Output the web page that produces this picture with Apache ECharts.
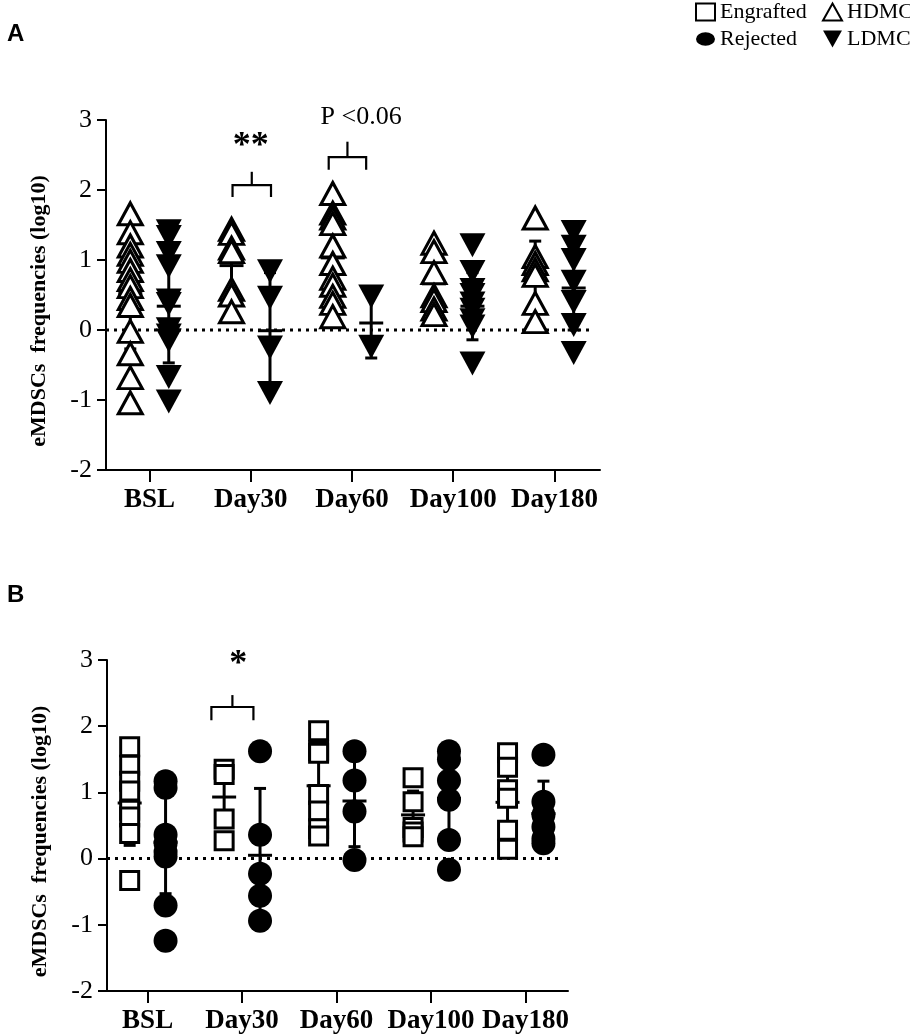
<!DOCTYPE html>
<html>
<head>
<meta charset="utf-8">
<script src="https://cdn.jsdelivr.net/npm/echarts@6/dist/echarts.min.js"></script>
<style>
  html, body { margin: 0; padding: 0; background: #fff; }
  #main { width: 910px; height: 1036px; }
</style>
</head>
<body>
<div id="main"></div>
<script>
// categories / tick labels
var categories = ['BSL', 'Day30', 'Day60', 'Day100', 'Day180'];
var yTicks = [-2, -1, 0, 1, 2, 3];
var yTitle = 'eMDSCs  frequencies (log10)';

// panel A values (log10), one list per time point
var hdmc = [
    [1.66, 1.39, 1.2, 1.08, 0.98, 0.85, 0.72, 0.62, 0.45, 0.35, -0.02, -0.34, -0.68, -1.04],
    [1.44, 1.38, 1.17, 1.12, 0.58, 0.5, 0.26],
    [1.95, 1.67, 1.6, 1.52, 1.2, 0.95, 0.74, 0.64, 0.48, 0.38, 0.19],
    [1.24, 1.12, 0.82, 0.49, 0.42, 0.3, 0.22],
    [1.6, 1.05, 0.95, 0.86, 0.78, 0.38, 0.12]
];
var ldmc = [
    [1.41, 1.33, 1.1, 0.91, 0.42, 0.37, 0.01, -0.08, -0.15, -0.67, -1.02],
    [0.84, 0.46, -0.25, -0.9],
    [0.48, -0.24],
    [1.21, 0.83, 0.57, 0.5, 0.38, 0.29, 0.14, 0.05, -0.48],
    [1.4, 1.19, 1.0, 0.69, 0.4, 0.07, -0.33]
];
// mean, lower, upper of the error bars
var hdmcBars = [[0.52, -0.27, 1.31], [0.92, 0.45, 1.39], [1.03, 0.45, 1.61], [0.66, 0.25, 1.06], [0.8, 0.32, 1.27]];
var ldmcBars = [[0.34, -0.47, 1.15], [-0.01, -0.8, 0.82], [0.1, -0.4, 0.57], [0.34, -0.14, 0.82], [0.6, 0.0, 1.2]];

// panel B values
var engrafted = [
    [1.69, 1.41, 1.17, 1.02, 0.73, 0.63, 0.38, -0.33],
    [1.35, 1.27, 0.6, 0.27],
    [1.93, 1.63, 1.59, 0.97, 0.72, 0.45, 0.34],
    [1.22, 0.86, 0.47, 0.4, 0.33],
    [1.6, 1.38, 1.04, 0.91, 0.43, 0.14]
];
var rejected = [
    [1.17, 1.07, 0.36, 0.23, 0.1, 0.03, -0.71, -1.24],
    [1.62, 0.36, -0.23, -0.56, -0.94],
    [1.62, 1.18, 0.71, -0.02],
    [1.62, 1.5, 1.18, 0.89, 0.28, -0.17],
    [1.57, 0.86, 0.66, 0.48, 0.3, 0.23]
];
var engBars = [[0.84, 0.2, 1.47], [0.93, 0.47, 1.39], [1.1, 0.5, 1.7], [0.66, 0.3, 1.02], [0.85, 0.3, 1.4]];
var rejBars = [[0.25, -0.53, 1.03], [0.05, -0.96, 1.06], [0.87, 0.18, 1.56], [0.91, 0.2, 1.6], [0.68, 0.19, 1.17]];

// significance marks: [x0, x1, yTop, yLeg, yTick]
var bracketsA = [[0.82, 1.2, 2.07, 1.9, 2.26], [1.77, 2.14, 2.47, 2.29, 2.69]];
var labelsA = [[1.0, 2.62, '**'], [2.09, 3.04, 'P <0.06']];
var bracketsB = [[0.675, 1.12, 2.29, 2.09, 2.47]];
var labelsB = [[0.96, 2.93, '*']];

var xMin = -0.43, xMax = 4.45, zeroEnd = 4.37, shift = 0.19;

var serif = 'Liberation Serif';

function points(groups, off) {
    var out = [];
    for (var i = 0; i < groups.length; i++) {
        for (var j = 0; j < groups[i].length; j++) {
            out.push([i + off, groups[i][j]]);
        }
    }
    return out;
}
function barData(bars, off) {
    var out = [];
    for (var i = 0; i < bars.length; i++) {
        out.push([i + off, bars[i][0], bars[i][1], bars[i][2]]);
    }
    return out;
}

function renderBar(params, api) {
    var x = api.value(0);
    var m = api.coord([x, api.value(1)]);
    var lo = api.coord([x, api.value(2)]);
    var hi = api.coord([x, api.value(3)]);
    var st = { stroke: '#000', lineWidth: 3 };
    return {
        type: 'group',
        children: [
            { type: 'line', shape: { x1: m[0], y1: lo[1], x2: m[0], y2: hi[1] }, style: st },
            { type: 'line', shape: { x1: m[0] - 6, y1: lo[1], x2: m[0] + 6, y2: lo[1] }, style: st },
            { type: 'line', shape: { x1: m[0] - 6, y1: hi[1], x2: m[0] + 6, y2: hi[1] }, style: st },
            { type: 'line', shape: { x1: m[0] - 12, y1: m[1], x2: m[0] + 12, y2: m[1] }, style: st }
        ]
    };
}
function renderBracket(params, api) {
    var a = api.coord([api.value(0), api.value(2)]);
    var b = api.coord([api.value(1), api.value(2)]);
    var leg = api.coord([api.value(0), api.value(3)]);
    var tick = api.coord([(api.value(0) + api.value(1)) / 2, api.value(4)]);
    var st = { stroke: '#000', lineWidth: 2.2, fill: null };
    return {
        type: 'group',
        children: [
            { type: 'polyline', shape: { points: [[a[0], leg[1]], [a[0], a[1]], [b[0], b[1]], [b[0], leg[1]]] }, style: st },
            { type: 'line', shape: { x1: tick[0], y1: a[1], x2: tick[0], y2: tick[1] }, style: st }
        ]
    };
}
function renderLabel(params, api) {
    var p = api.coord([api.value(0), api.value(1)]);
    var t = api.value(2);
    var isP = t === 'P <0.06';
    return {
        type: 'text',
        x: p[0], y: p[1],
        style: {
            text: t,
            fontFamily: serif,
            fontSize: isP ? 26 : 36,
            fontWeight: isP ? 'normal' : 'bold',
            fill: '#000',
            align: 'center',
            verticalAlign: 'middle'
        }
    };
}

function xAxis(g) {
    return {
        gridIndex: g, type: 'value', min: xMin, max: xMax,
        axisLine: { onZero: false, lineStyle: { color: '#000', width: 2 } },
        axisTick: { customValues: [0, 1, 2, 3, 4], length: 12, lineStyle: { color: '#000', width: 2 } },
        axisLabel: {
            customValues: [0, 1, 2, 3, 4],
            formatter: function (v) { return categories[Math.round(v)]; },
            fontFamily: serif, fontWeight: 'bold', fontSize: 27, color: '#000', margin: 17
        },
        splitLine: { show: false }
    };
}
function yAxis(g) {
    return {
        gridIndex: g, type: 'value', min: yTicks[0], max: yTicks[yTicks.length - 1], interval: 1,
        axisLine: { show: true, onZero: false, lineStyle: { color: '#000', width: 2 } },
        axisTick: { show: true, length: 9, lineStyle: { color: '#000', width: 2 } },
        axisLabel: { fontFamily: serif, fontSize: 26, color: '#000', margin: 14 },
        splitLine: { show: false },
        name: yTitle, nameLocation: 'middle', nameGap: 56, nameRotate: 90,
        nameTextStyle: { fontFamily: serif, fontWeight: 'bold', fontSize: 22, color: '#000', padding: [0, 32, 0, 0] }
    };
}

var openStyle = { color: '#fff', borderColor: '#000', borderWidth: 3, opacity: 1 };
var fillStyle = { color: '#000', borderColor: '#000', borderWidth: 0, opacity: 1 };

function panel(g, names, groupsL, groupsR, barsL, barsR, symL, symR, brackets, labels) {
    var list = [];
    list.push({
        type: 'line', xAxisIndex: g, yAxisIndex: g, z: 1, silent: true,
        data: [[xMin, 0], [zeroEnd, 0]], symbol: 'none',
        lineStyle: { color: '#000', width: 3, type: [3, 5] }
    });
    list.push({ type: 'custom', xAxisIndex: g, yAxisIndex: g, z: 2, renderItem: renderBar, data: barData(barsL, -shift) });
    list.push({ type: 'custom', xAxisIndex: g, yAxisIndex: g, z: 2, renderItem: renderBar, data: barData(barsR, shift) });
    list.push({
        type: 'scatter', name: names[0], xAxisIndex: g, yAxisIndex: g, z: 3,
        symbol: symL.symbol, symbolSize: symL.size, symbolRotate: symL.rotate || 0,
        itemStyle: symL.style, data: points(groupsL, -shift)
    });
    list.push({
        type: 'scatter', name: names[1], xAxisIndex: g, yAxisIndex: g, z: 4,
        symbol: symR.symbol, symbolSize: symR.size, symbolRotate: symR.rotate || 0,
        itemStyle: symR.style, data: points(groupsR, shift)
    });
    list.push({ type: 'custom', xAxisIndex: g, yAxisIndex: g, z: 5, renderItem: renderBracket, data: brackets });
    list.push({ type: 'custom', xAxisIndex: g, yAxisIndex: g, z: 5, renderItem: renderLabel, data: labels,
        dimensions: ['x', 'y', { name: 't', type: 'ordinal' }] });
    return list;
}

var series = [].concat(
    panel(0, ['HDMC', 'LDMC'], hdmc, ldmc, hdmcBars, ldmcBars,
        { symbol: 'triangle', size: [24, 22], style: openStyle },
        { symbol: 'triangle', size: [26, 24], rotate: 180, style: fillStyle },
        bracketsA, labelsA),
    panel(1, ['Engrafted', 'Rejected'], engrafted, rejected, engBars, rejBars,
        { symbol: 'rect', size: 18, style: openStyle },
        { symbol: 'circle', size: 24, style: fillStyle },
        bracketsB, labelsB)
);

var legendText = { fontFamily: serif, fontSize: 22, color: '#000' };

var option = {
    animation: false,
    backgroundColor: '#fff',
    title: [
        { text: 'A', left: 2, top: 17, textStyle: { fontFamily: 'Liberation Sans', fontWeight: 'bold', fontSize: 24, color: '#000' } },
        { text: 'B', left: 2, top: 578, textStyle: { fontFamily: 'Liberation Sans', fontWeight: 'bold', fontSize: 24, color: '#000' } }
    ],
    legend: [
        {
            left: 695, top: 1, orient: 'vertical', itemGap: 5, itemWidth: 19, itemHeight: 17, selectedMode: false,
            textStyle: legendText, padding: 0,
            data: [
                { name: 'Engrafted', icon: 'rect' },
                { name: 'Rejected', icon: 'path://M0,7A10,7,0,1,1,20,7A10,7,0,1,1,0,7Z' }
            ]
        },
        {
            left: 822, top: 1, orient: 'vertical', itemGap: 5, itemWidth: 19, itemHeight: 17, selectedMode: false,
            textStyle: legendText, padding: 0,
            data: [
                { name: 'HDMC', icon: 'triangle' },
                { name: 'LDMC', icon: 'path://M0,0L10,0L5,9Z' }
            ]
        }
    ],
    grid: [
        { left: 106, top: 120, width: 494, height: 350 },
        { left: 107, top: 660, width: 461, height: 331 }
    ],
    xAxis: [xAxis(0), xAxis(1)],
    yAxis: [yAxis(0), yAxis(1)],
    series: series
};

var myChart = echarts.init(document.getElementById('main'));
myChart.setOption(option);
</script>
</body>
</html>
